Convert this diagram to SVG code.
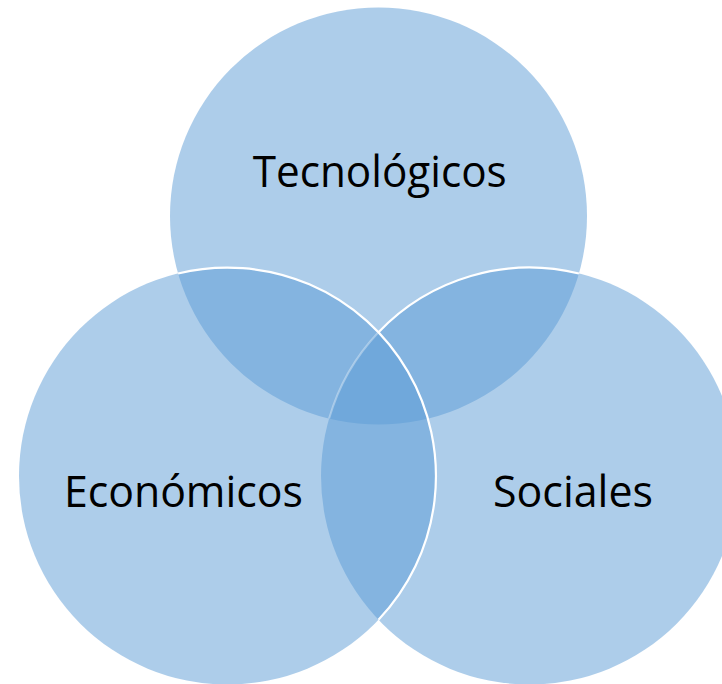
<svg xmlns="http://www.w3.org/2000/svg" width="722" height="684" viewBox="0 0 722 684">
  <style>
    .c { fill: #5B9BD5; fill-opacity: 0.5; stroke: none; }
    .edge { fill: none; stroke: #FFFFFF; stroke-width: 2.2; }
    .faint { fill: none; stroke: #FFFFFF; stroke-width: 2; stroke-opacity: 0.35; }
    .lbl { font-family: "Open Sans", "Noto Sans", "Liberation Sans", sans-serif; font-size: 44px; fill: #000000; text-anchor: middle; }
  </style>
  <rect width="722" height="684" fill="#FFFFFF"/>
  <g id="tecnologicos">
    <circle class="c" cx="378.5" cy="216" r="208.5"/>
  </g>
  <g id="sociales">
    <circle class="c" cx="529.5" cy="476" r="208.5"/>
  </g>
  <g id="economicos">
    <circle class="c" cx="227.5" cy="476" r="208.5"/>
  </g>
  <g id="outlines">
    <path class="edge" d="M178.1,273.5 A208.5,208.5 0 0 1 378.5,619.8"/>
    <path class="edge" d="M578.9,273.5 A208.5,208.5 0 0 0 378.5,332.2"/>
    <path class="faint" d="M378.5,332.2 A208.5,208.5 0 0 0 329.1,418.6"/>
  </g>
  <g id="labels">
    <text class="lbl" x="379.7" y="187" textLength="254" lengthAdjust="spacingAndGlyphs">Tecnológicos</text>
    <text class="lbl" x="183.4" y="507" textLength="239" lengthAdjust="spacingAndGlyphs">Económicos</text>
    <text class="lbl" x="573" y="507" textLength="160" lengthAdjust="spacingAndGlyphs">Sociales</text>
  </g>
</svg>
